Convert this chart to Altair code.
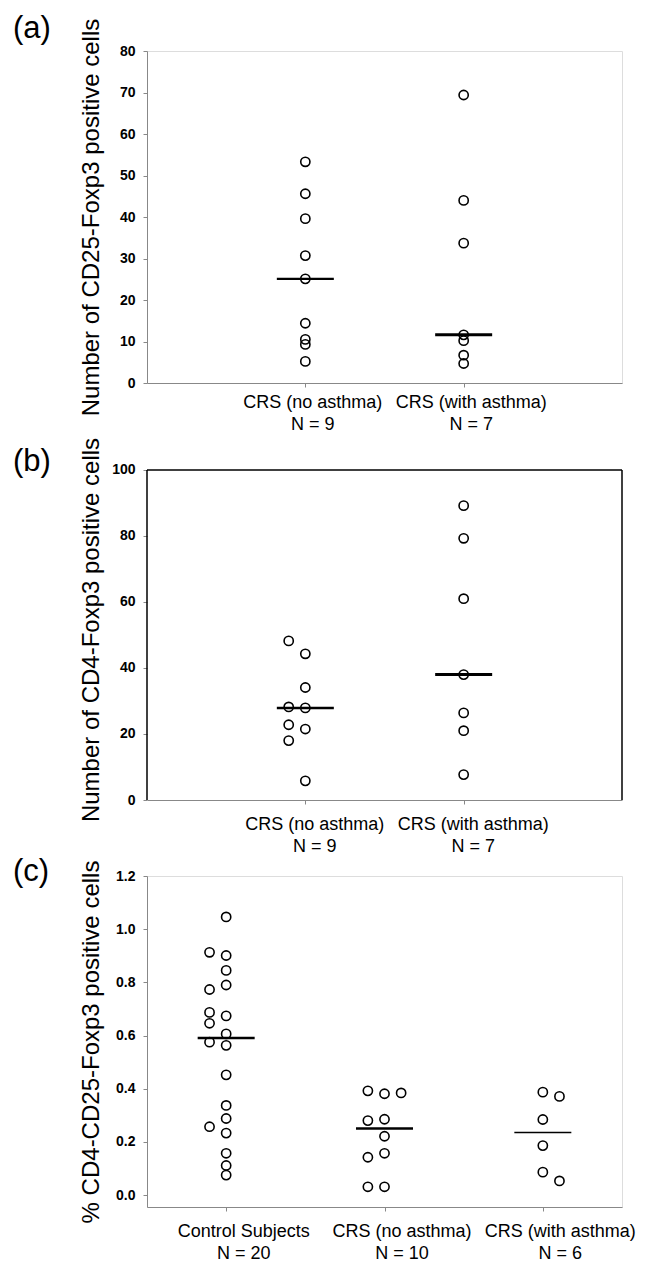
import altair as alt
import pandas as pd
import numpy as np

FONT = "Liberation Sans"

# ---------------- data ----------------
# Panel (a): Number of CD25-Foxp3 positive cells
a_cats = ["CRS (no asthma)", "CRS (with asthma)"]
a_ns = ["N = 9", "N = 7"]
a_no_asthma = [53.3, 45.6, 39.6, 30.7, 25.1, 14.4, 10.5, 9.3, 5.2]
a_no_asthma_col = [0, 0, 0, 0, 0, 0, 0, 0, 0]
a_with_asthma = [69.4, 44.0, 33.7, 11.6, 10.2, 6.7, 4.7]
a_with_asthma_col = [0, 0, 0, 0, 0, 0, 0]

# Panel (b): Number of CD4-Foxp3 positive cells
b_cats = ["CRS (no asthma)", "CRS (with asthma)"]
b_ns = ["N = 9", "N = 7"]
b_no_asthma = [48.2, 44.3, 34.1, 28.2, 27.9, 22.8, 21.5, 18.0, 5.8]
b_no_asthma_col = [-1, 0, 0, -1, 0, -1, 0, -1, 0]
b_with_asthma = [89.2, 79.3, 61.0, 38.0, 26.4, 21.0, 7.7]
b_with_asthma_col = [0, 0, 0, 0, 0, 0, 0]

# Panel (c): % CD4-CD25-Foxp3 positive cells
c_cats = ["Control Subjects", "CRS (no asthma)", "CRS (with asthma)"]
c_ns = ["N = 20", "N = 10", "N = 6"]
c_control = [1.046, 0.901, 0.845, 0.790, 0.674, 0.606, 0.563, 0.452, 0.337,
             0.288, 0.233, 0.157, 0.111, 0.075,
             0.913, 0.773, 0.687, 0.646, 0.575, 0.257]
c_control_col = [0, 0, 0, 0, 0, 0, 0, 0, 0, 0, 0, 0, 0, 0,
                 -1, -1, -1, -1, -1, -1]
c_no_asthma = [0.392, 0.381, 0.384, 0.280, 0.285, 0.221, 0.142, 0.157, 0.031, 0.031]
c_no_asthma_col = [-1, 0, 1, -1, 0, 0, -1, 0, -1, 0]
c_with_asthma = [0.387, 0.371, 0.284, 0.186, 0.086, 0.053]
c_with_asthma_col = [0, 1, 0, 0, 0, 1]

# ---------------- style ----------------
COL_OFFSET = 0.105     # horizontal offset of side-by-side points (x units)
HALF_LINE = 0.18       # half width of the median line (x units)
PLOT_W = 475


def panel(label, ytitle, cats, ns, groups, cat_pos, y_domain, y_ticks, y_fmt,
          height, line_widths, label_pad, label_off, label_y, frame_top=None):
    rows = []
    meds = []
    for gi, (vals, cols) in enumerate(groups):
        for v, c in zip(vals, cols):
            rows.append({"x": cat_pos[gi] + c * COL_OFFSET, "y": v})
        meds.append({"x1": cat_pos[gi] - HALF_LINE, "x2": cat_pos[gi] + HALF_LINE,
                     "m": float(np.median(vals)), "w": line_widths[gi]})
    df = pd.DataFrame(rows)
    med = pd.DataFrame(meds)

    expr = "''"
    for p, c, n in reversed(list(zip(cat_pos, cats, ns))):
        expr = f"abs(datum.value - {p}) < 0.01 ? ['{c}', '{n}'] : ({expr})"

    xscale = alt.Scale(domain=[0, 3], nice=False, zero=False)
    yscale = alt.Scale(domain=y_domain, nice=False, zero=False)

    xaxis = alt.Axis(values=cat_pos, labelExpr=expr, title=None, grid=False,
                     labelFont=FONT, labelFontSize=18, labelLineHeight=22,
                     labelPadding=label_pad, labelOffset=label_off,
                     labelOverlap=False, labelFlush=False,
                     labelBound=False, labelBaseline="top", tickSize=4)
    yaxis_kwargs = dict(values=y_ticks, format=y_fmt, title=ytitle, grid=False,
                        labelFont=FONT, labelFontSize=14, labelFontWeight="bold",
                        labelPadding=8, tickSize=4,
                        titleFont=FONT, titleFontSize=24, titleFontWeight="normal",
                        titleX=-44)
    if frame_top is not None:
        yaxis_kwargs["domain"] = False
    yaxis = alt.Axis(**yaxis_kwargs)

    pts = alt.Chart(df).mark_point(shape="circle", filled=False, color="black",
                                   size=85, strokeWidth=1.6, opacity=1).encode(
        x=alt.X("x:Q", scale=xscale, axis=xaxis),
        y=alt.Y("y:Q", scale=yscale, axis=yaxis),
    )
    lines = alt.Chart(med).mark_rule(color="black").encode(
        x="x1:Q", x2="x2:Q", y="m:Q",
        strokeWidth=alt.StrokeWidth("w:Q", scale=None),
    )
    tag = alt.Chart(pd.DataFrame({"t": [label]})).mark_text(
        font=FONT, fontSize=31, align="left", baseline="alphabetic", color="black"
    ).encode(text="t:N", x=alt.value(-134), y=alt.value(label_y))
    layers = [pts, lines, tag]
    if frame_top is not None:
        frame = pd.DataFrame({
            "x": [0, 0, 3],
            "x2": [0, 3, 3],
            "y": [0, frame_top, 0],
            "y2": [frame_top, frame_top, frame_top],
        })
        layers.append(alt.Chart(frame).mark_rule(color="black", strokeWidth=1.5).encode(
            x="x:Q", x2="x2:Q", y="y:Q", y2="y2:Q"))
    ch = alt.layer(*layers).properties(width=PLOT_W, height=height)
    if frame_top is not None:
        ch = ch.properties(view=alt.ViewBackground(stroke="transparent"))
    return ch


A = panel("(a)", "Number of CD25-Foxp3 positive cells", a_cats, a_ns,
          [(a_no_asthma, a_no_asthma_col), (a_with_asthma, a_with_asthma_col)],
          [1, 2], [0, 80], [0, 10, 20, 30, 40, 50, 60, 70, 80], "d",
          332, [2.2, 3], 6, 7, -13)
B = panel("(b)", "Number of CD4-Foxp3 positive cells", b_cats, b_ns,
          [(b_no_asthma, b_no_asthma_col), (b_with_asthma, b_with_asthma_col)],
          [1, 2], [0, 103.33], [0, 20, 40, 60, 80, 100], "d",
          341, [2.5, 3], 11, 9, 12, frame_top=100)
C = panel("(c)", "% CD4-CD25-Foxp3 positive cells", c_cats, c_ns,
          [(c_control, c_control_col), (c_no_asthma, c_no_asthma_col),
           (c_with_asthma, c_with_asthma_col)],
          [0.5, 1.5, 2.5], [-0.045, 1.2], [0.0, 0.2, 0.4, 0.6, 0.8, 1.0, 1.2], ".1f",
          331, [2.5, 2.5, 1.5], 11, 17, 5)

chart = alt.vconcat(A, B, C, spacing=76, bounds="flush").properties(
    padding={"left": 4, "top": 4, "right": 0, "bottom": 0}
).configure_view(stroke="black", strokeWidth=1.5).configure_axis(
    domainColor="black", domainWidth=1.5, tickColor="black", tickWidth=1.5,
    labelColor="black", titleColor="black"
).configure(background="white")

chart.save("out.html", embed_options={"renderer": "svg", "actions": False})
